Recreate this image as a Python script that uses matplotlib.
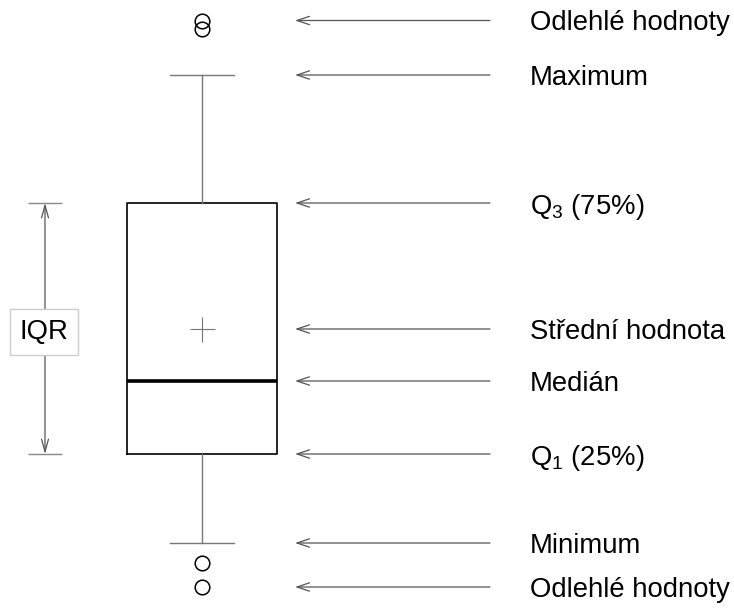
import matplotlib.pyplot as plt

plt.rcParams['font.family'] = ['Liberation Sans', 'DejaVu Sans']

# Box plot statistics (arbitrary units)
q1 = 15.6
median = 22.9
mean = 28.1
q3 = 40.7
whisker_low = 6.7
whisker_high = 53.5
outliers_high = [58.95, 58.15]
outliers_low = [4.7, 2.3]

# Annotation labels on the right, top to bottom
label_texts = [
    'Odlehlé hodnoty',
    'Maximum',
    r'Q$_\mathregular{3}$ (75%)',
    'Střední hodnota',
    'Medián',
    r'Q$_\mathregular{1}$ (25%)',
    'Minimum',
    'Odlehlé hodnoty',
]
label_values = [outliers_high[0], whisker_high, q3, mean, median, q1, whisker_low, outliers_low[-1]]

stats = [{
    'med': median, 'q1': q1, 'q3': q3,
    'whislo': whisker_low, 'whishi': whisker_high,
    'mean': mean, 'fliers': outliers_high + outliers_low,
}]

fig = plt.figure(figsize=(7.34, 6.1), dpi=100)
ax = fig.add_axes([0, 0, 1, 1])
ax.set_xlim(0, 73.4)
ax.set_ylim(0, 61)
ax.axis('off')

ax.bxp(
    stats, positions=[20.2], widths=15, capwidths=6.4, showmeans=True,
    boxprops=dict(color='black', linewidth=1.2),
    whiskerprops=dict(color='#777777', linewidth=1),
    capprops=dict(color='#777777', linewidth=1),
    medianprops=dict(color='black', linewidth=2.6),
    meanprops=dict(marker='+', markersize=18, markeredgecolor='#777777', markeredgewidth=0.8),
    flierprops=dict(marker='o', markersize=10.5, markerfacecolor='none',
                    markeredgecolor='black', markeredgewidth=1.1),
)

# Arrows and labels
for text, value in zip(label_texts, label_values):
    ax.annotate('', xy=(29.5, value), xytext=(49, value),
                arrowprops=dict(arrowstyle='->,head_length=0.9,head_width=0.3',
                                color='#555555', lw=0.9, shrinkA=0, shrinkB=0))
    ax.text(53, value, text, ha='left', va='center_baseline', fontsize=19.8, color='black')

# IQR bracket
ax.hlines([q3, q1], 2.8, 6.2, color='#888888', linewidth=1)
ax.annotate('', xy=(4.5, q3), xytext=(4.5, q1),
            arrowprops=dict(arrowstyle='<->,head_length=0.9,head_width=0.25',
                            color='#555555', lw=0.9, shrinkA=0, shrinkB=0))
ax.text(4.4, mean, 'IQR', ha='center', va='center_baseline', fontsize=19.8,
        bbox=dict(boxstyle='square,pad=0.35', facecolor='white', edgecolor='#cccccc', linewidth=1))

fig.savefig('out.png', dpi=100)
